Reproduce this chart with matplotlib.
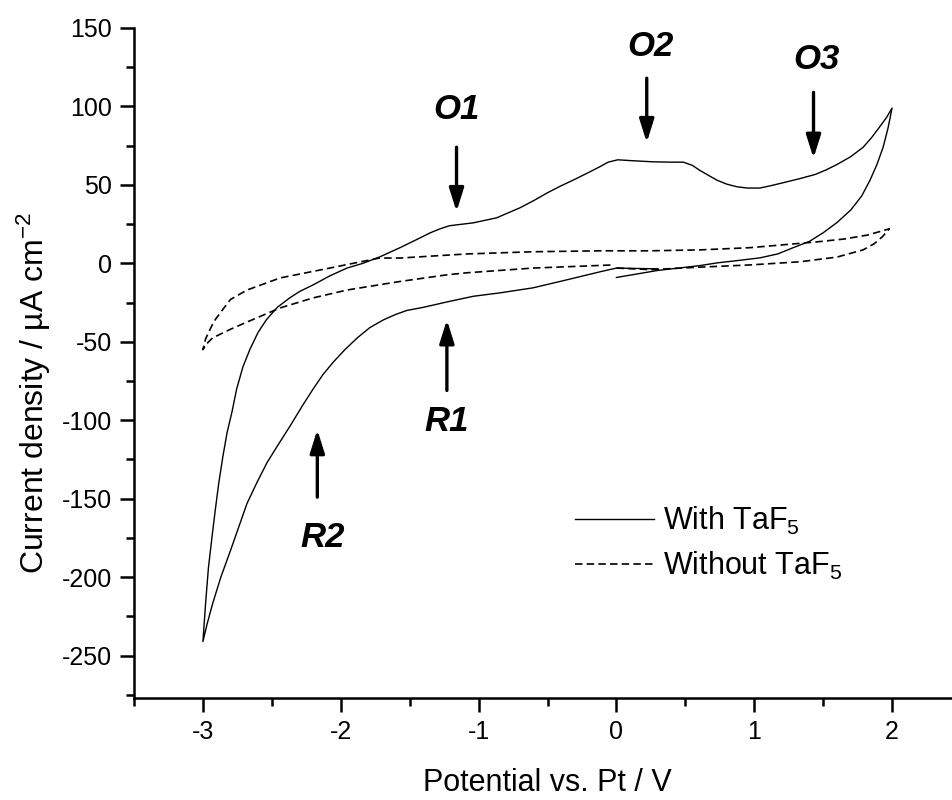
import numpy as np
import matplotlib
matplotlib.use("Agg")
import matplotlib.pyplot as plt
from matplotlib.ticker import MultipleLocator

plt.rcParams['font.family'] = ['Liberation Sans', 'DejaVu Sans']
plt.rcParams['mathtext.fontset'] = 'custom'
plt.rcParams['mathtext.rm'] = 'Liberation Sans'
plt.rcParams['mathtext.it'] = 'Liberation Sans:italic'
plt.rcParams['mathtext.bf'] = 'Liberation Sans:bold'
plt.rcParams['axes.unicode_minus'] = False

# CV with TaF5: start near 0 V, anodic to 2 V, back to -3 V, then back to ~0 V
with_x = [0.0, 0.3, 0.6, 0.73, 0.9, 1.04, 1.17, 1.28, 1.40, 1.50, 1.60, 1.70, 1.78, 1.84, 1.89,
          1.935, 1.97, 2.0,
          1.96, 1.91, 1.85, 1.79, 1.70, 1.60, 1.52, 1.44, 1.33, 1.21, 1.12, 1.04, 0.95, 0.875,
          0.80, 0.73, 0.67, 0.61, 0.55, 0.485, 0.40, 0.27, 0.12, 0.01,
          -0.06, -0.12, -0.2, -0.315, -0.40, -0.50, -0.60, -0.70, -0.87, -1.04, -1.21, -1.28,
          -1.35, -1.43, -1.57, -1.72, -1.84,
          -1.955, -2.08, -2.20, -2.30, -2.37, -2.46, -2.54, -2.60, -2.66, -2.71, -2.755, -2.79,
          -2.825, -2.855, -2.885, -2.91, -2.935, -2.96, -2.98, -3.0,
          -2.97, -2.93, -2.87, -2.80, -2.74, -2.68, -2.61, -2.535, -2.45, -2.37, -2.28, -2.20,
          -2.13, -2.055, -1.97, -1.88, -1.79, -1.69, -1.60, -1.52, -1.40,
          -1.23, -1.04, -0.845, -0.605, -0.36, -0.12, 0.0, 0.3]
with_y = [-9, -4.5, -1.5, 0.3, 2, 3.5, 6, 9.9, 14, 19.5, 26, 34, 43, 53, 63,
          74, 86, 99,
          93, 87, 80, 74, 68, 63, 59.5, 56.6, 54, 51.4, 49.5, 48, 48, 48.8,
          50.5, 53, 56, 59, 62.5, 64.5, 64.5, 64.7, 65.4, 66,
          64.5, 61.6, 58, 53, 49.5, 45, 40, 35.4, 29, 25.8, 24, 22,
          19.5, 16, 10, 4, 0,
          -3, -8, -13.7, -18, -22, -28, -36, -44, -55, -66, -80, -95,
          -108, -123, -140, -157, -175, -194, -216, -241,
          -230, -217, -200, -183, -168, -153, -140, -127, -115, -104, -91, -80,
          -71, -63, -55, -47.5, -41, -36, -32.5, -30, -28,
          -24.6, -21, -18.8, -15.6, -10.5, -5.4, -3, -3.5]

# CV without TaF5
without_x = [0.0, 0.25, 0.61, 0.97, 1.33, 1.60, 1.79, 1.87, 1.93, 1.98,
             1.90, 1.82, 1.65, 1.455, 0.97, 0.61, 0.24, -0.12, -0.605, -1.085, -1.57, -1.72,
             -2.08, -2.44, -2.68, -2.80, -2.875, -2.92, -2.95, -2.98, -3.0,
             -2.97, -2.93, -2.80, -2.68, -2.44, -2.20, -1.955, -1.59, -1.23, -1.085, -0.605, -0.025]
without_y = [-3, -4, -2.4, -1, 1, 4, 8.6, 12.5, 17, 22,
             20, 18, 15.5, 13.7, 10, 8.6, 8, 8, 7.4, 6, 3.4, 3.4,
             -3, -9.3, -17, -23, -31.6, -37, -42.4, -48, -55,
             -51, -47.5, -42, -37.4, -28.4, -22, -17, -11.8, -7.3, -6, -3, -1]

# peak markers: label, arrow x, arrow tail y, arrow tip y, text x, text y
peak_labels = ['O1', 'O2', 'O3', 'R1', 'R2']
peak_x = [-1.16, 0.22, 1.43, -1.23, -2.17]
tail_y = [74, 118, 109, -81, -149]
tip_y = [33, 77, 67, -36, -106]
text_x = [-1.16, 0.25, 1.45, -1.23, -2.13]
text_y = [98, 138, 130, -101, -175]

fig = plt.figure(figsize=(9.52, 8), dpi=100)
ax = fig.add_axes([134 / 952, 102 / 800, 827 / 952, 670 / 800])

ax.plot(with_x, with_y, color='black', lw=1.0, label='With TaF$_5$')
ax.plot(without_x, without_y, color='black', lw=1.2, dashes=(4.5, 2.5), label='Without TaF$_5$')

for lab, xa, y0, y1, tx, ty in zip(peak_labels, peak_x, tail_y, tip_y, text_x, text_y):
    ax.annotate('', xy=(xa, y1), xytext=(xa, y0),
                arrowprops=dict(arrowstyle='-|>,head_length=0.7,head_width=0.22',
                                mutation_scale=20, lw=2.4, color='black',
                                shrinkA=0, shrinkB=0))
    ax.text(tx, ty, lab, fontsize=25, fontweight='bold', fontstyle='italic',
            ha='center', va='center')

ax.set_xlim(-3.5, 2.5)
ax.set_ylim(-277, 150)
ax.xaxis.set_major_locator(MultipleLocator(1))
ax.xaxis.set_minor_locator(MultipleLocator(0.5))
ax.yaxis.set_major_locator(MultipleLocator(50))
ax.yaxis.set_minor_locator(MultipleLocator(25))

ax.spines['top'].set_visible(False)
ax.spines['right'].set_visible(False)
for s in ['left', 'bottom']:
    ax.spines[s].set_linewidth(1.8)

ax.tick_params(which='major', direction='out', length=10, width=1.8, labelsize=18, pad=6)
ax.tick_params(which='minor', direction='out', length=5.5, width=1.8)

ax.set_xlabel('Potential vs. Pt / V', fontsize=22)
ax.set_ylabel('Current density / µA cm$^{-2}$', fontsize=23)
ax.xaxis.set_label_coords(0.5, -0.105)
ax.yaxis.set_label_coords(-0.098, 0.455)

ax.legend(loc='upper left', bbox_to_anchor=(0.533, 0.288), frameon=False,
          fontsize=22, handlelength=2.6, handletextpad=0.3, labelspacing=0.42,
          borderpad=0, borderaxespad=0)

fig.savefig('out.png', dpi=100)
